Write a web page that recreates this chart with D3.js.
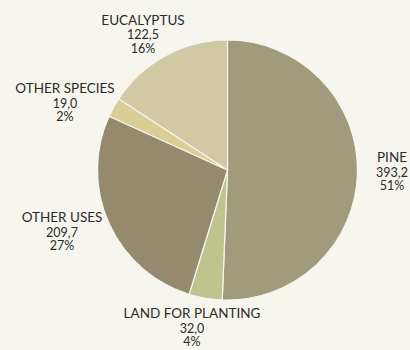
<!DOCTYPE html>
<html><head><meta charset="utf-8">
<script src="https://cdn.jsdelivr.net/npm/d3@7/dist/d3.min.js"></script>
<style>html,body{margin:0;padding:0;background:#f6f5ee;}svg{display:block;}</style>
</head><body>
<svg id="c" width="410" height="350"></svg>
<script>
const categories = ["PINE", "LAND FOR PLANTING", "OTHER USES", "OTHER SPECIES", "EUCALYPTUS"];
const values = [393.2, 32.0, 209.7, 19.0, 122.5];
const valueLabels = ["393,2", "32,0", "209,7", "19,0", "122,5"];
const percentLabels = ["51%", "4%", "27%", "2%", "16%"];
const colors = ["#a09b7c", "#bfc48f", "#958a6d", "#dacd96", "#d0c9a3"];
// label anchor positions (layout)
const labelPos = [[392,162],[192,318],[62,222],[65,93],[143,24.5]];

const svg = d3.select("#c");
svg.append("rect").attr("width",410).attr("height",350).attr("fill","#f6f5ee");
const cx = 227.5, cy = 170, r = 130;
const g = svg.append("g").attr("transform",`translate(${cx},${cy})`);
const pie = d3.pie().sort(null).value(d=>d);
const arc = d3.arc().innerRadius(0).outerRadius(r);
g.selectAll("path").data(pie(values)).join("path")
  .attr("d",arc).attr("fill",(d,i)=>colors[i])
  .attr("stroke","#f6f5ee").attr("stroke-width",1.2);

const lg = svg.append("g").attr("font-family","Lato, sans-serif").attr("fill","#2b2b2b").attr("text-anchor","middle");
categories.forEach((c,i)=>{
  const [x,y] = labelPos[i];
  lg.append("text").attr("x",x).attr("y",y).attr("font-size",13.5).text(c);
  lg.append("text").attr("x",x).attr("y",y+14.5).attr("font-size",12.5).text(valueLabels[i]);
  lg.append("text").attr("x",x).attr("y",y+28).attr("font-size",12.5).text(percentLabels[i]);
});
</script>
</body></html>
